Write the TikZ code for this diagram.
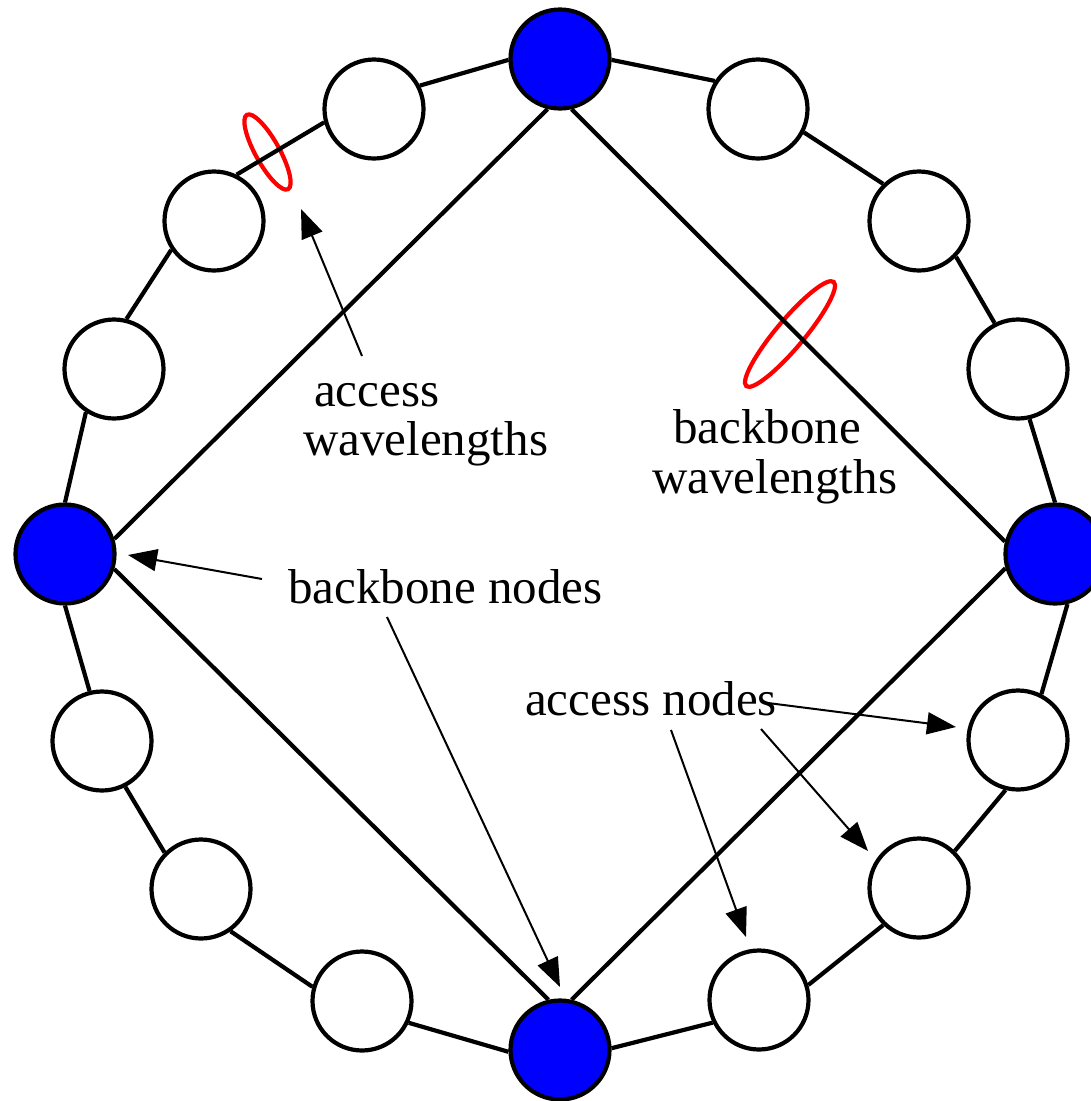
\documentclass[tikz,border=0pt]{standalone}
\usepackage{fontspec}
\setmainfont{Liberation Serif}
\usetikzlibrary{arrows.meta}
\begin{document}
\begin{tikzpicture}[x=1pt,y=-1pt,
  ring/.style={line width=4.2pt},
  accnode/.style={circle,draw,line width=4.2pt,fill=white,minimum size=99pt,inner sep=0pt},
  bbnode/.style={accnode,fill=blue},
  lbl/.style={anchor=base west,inner sep=0pt,font=\fontsize{49}{56}\selectfont},
  arr/.style={line width=2pt,-{Triangle[length=29pt,width=22pt]}},
  wl/.style={draw=red,line width=4.2pt}]
\useasboundingbox (0,0) rectangle (1091,1101);
% wavelength ellipses
\coordinate (e1) at (267.5,152);
\coordinate (e2) at (790,334);
\draw[wl,rotate around={-61:(e1)}] (e1) ellipse [x radius=42.5pt, y radius=12pt];
\draw[wl,rotate around={50:(e2)}] (e2) ellipse [x radius=68pt, y radius=14pt];
% nodes
\node[bbnode] (T) at (560,59) {};
\node[bbnode] (L) at (65,554) {};
\node[bbnode] (R) at (1055,554) {};
\node[bbnode] (B) at (560,1050) {};
\node[accnode] (a1) at (758,109) {};
\node[accnode] (a2) at (919,221) {};
\node[accnode] (a3) at (1018,369) {};
\node[accnode] (a4) at (1018,740) {};
\node[accnode] (a5) at (919,888) {};
\node[accnode] (a6) at (759,1000) {};
\node[accnode] (a7) at (362,1001) {};
\node[accnode] (a8) at (201,889) {};
\node[accnode] (a9) at (102,741) {};
\node[accnode] (a10) at (114,369) {};
\node[accnode] (a11) at (214,221) {};
\node[accnode] (a12) at (374,109) {};
% ring
\draw[ring] (T.181) -- (a12.27);
\draw[ring] (a12.195) -- (a11.64);
\draw[ring] (a11.214) -- (a10.76);
\draw[ring] (a10.237) -- (L.90);
\draw[ring] (L.270) -- (a9.104);
\draw[ring] (a9.297) -- (a8.135);
\draw[ring] (a8.305) -- (a7.164);
\draw[ring] (a7.335) -- (B.182);
\draw[ring] (B.2) -- (a6.206);
\draw[ring] (a6.17) -- (a5.226);
\draw[ring] (a5.46) -- (a4.256);
\draw[ring] (a4.63) -- (R.284);
\draw[ring] (R.90) -- (a3.283);
\draw[ring] (a3.117) -- (a2.316);
\draw[ring] (a2.134) -- (a1.333);
\draw[ring] (a1.147) -- (T.359);
% backbone
\draw[ring] (T.256) -- (L.17);
\draw[ring] (T.283) -- (R.166);
\draw[ring] (L.343) -- (B.103);
\draw[ring] (R.196) -- (B.77);
% labels
\node[lbl] (lacc1) at (314,406) {access};
\node[lbl] (lacc2) at (303,455) {wavelengths};
\node[lbl] (lbb1) at (673,443) {backbone};
\node[lbl] (lbb2) at (652,493) {wavelengths};
\node[lbl] (lbbn) at (288,603) {backbone nodes};
\node[lbl] (lacn) at (525,715) {access nodes};
% arrows
\coordinate (s1) at (362,356); \coordinate (t1) at (301,209);
\coordinate (s2) at (262,579); \coordinate (t2) at (128,555);
\coordinate (s3) at (387,617); \coordinate (t3) at (560,987);
\coordinate (s4) at (768,703); \coordinate (t4) at (956,727);
\coordinate (s5) at (761,729); \coordinate (t5) at (868,851);
\coordinate (s6) at (671,730); \coordinate (t6) at (746,937);
\draw[arr] (s1) -- (t1);
\draw[arr] (s2) -- (t2);
\draw[arr] (s3) -- (t3);
\draw[arr] (s4) -- (t4);
\draw[arr] (s5) -- (t5);
\draw[arr] (s6) -- (t6);
\end{tikzpicture}
\end{document}
